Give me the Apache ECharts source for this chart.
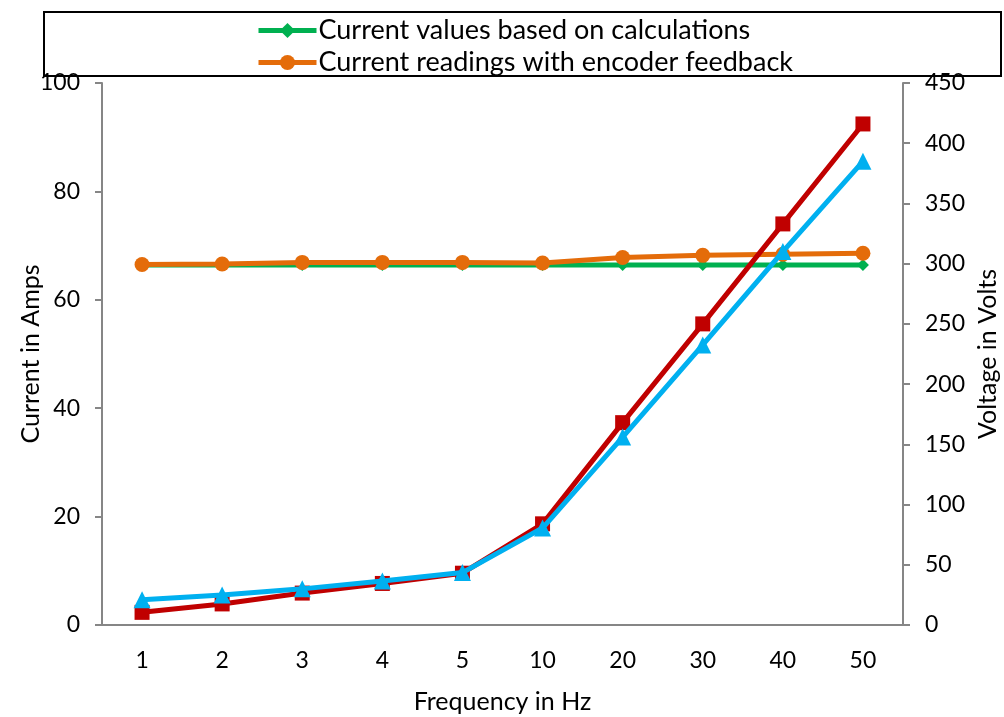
<!DOCTYPE html>
<html>
<head>
<meta charset="utf-8">
<script src="https://cdn.jsdelivr.net/npm/echarts@6/dist/echarts.min.js"></script>
<style>
  html, body { margin: 0; padding: 0; background: #fff; }
  #chart { width: 1004px; height: 717px; }
</style>
</head>
<body>
<div id="chart"></div>
<script>
const frequencies = ['1', '2', '3', '4', '5', '10', '20', '30', '40', '50'];
const currentCalc = [66.4, 66.4, 66.4, 66.4, 66.4, 66.4, 66.4, 66.4, 66.4, 66.4];
const currentEncoder = [66.5, 66.6, 66.9, 66.9, 66.9, 66.8, 67.8, 68.2, 68.4, 68.6];
const voltageRed = [10.5, 17.5, 26.5, 34.5, 43, 84, 168, 250, 333, 416];
const voltageBlue = [21, 25, 30, 36.5, 43.5, 80.5, 156, 232.5, 310, 385];

const font = 'Lato, "Open Sans", sans-serif';
const axisGray = '#868686';

const chart = echarts.init(document.getElementById('chart'));

const option = {
  animation: false,
  textStyle: { fontFamily: font, color: '#000' },
  graphic: [
    {
      type: 'rect',
      shape: { x: 44, y: 12, width: 957, height: 64 },
      style: { fill: 'none', stroke: '#000', lineWidth: 2 },
      z: 0,
    },
  ],
  legend: {
    orient: 'vertical',
    left: 251,
    top: 12,
    itemWidth: 58,
    itemHeight: 19,
    itemGap: 5,
    lineStyle: { width: 5 },
    data: ['Current values based on calculations', 'Current readings with encoder feedback'],
    textStyle: { fontSize: 27, fontFamily: font, color: '#000', padding: [0, 0, 0, -3] },
  },
  grid: { left: 102, right: 101, top: 83, bottom: 92, outerBoundsMode: 'none' },
  xAxis: {
    type: 'category',
    data: frequencies,
    name: 'Frequency in Hz',
    nameLocation: 'middle',
    nameGap: 64,
    nameTextStyle: { fontSize: 25, color: '#000' },
    axisLine: { lineStyle: { color: axisGray, width: 2 } },
    axisTick: { alignWithLabel: true, length: 7, lineStyle: { color: axisGray, width: 2 } },
    axisLabel: { fontSize: 23, color: '#000', margin: 24 },
  },
  yAxis: [
    {
      type: 'value',
      min: 0,
      max: 100,
      interval: 20,
      name: 'Current in Amps',
      nameLocation: 'middle',
      nameGap: 59,
      nameMoveOverlap: false,
      nameTextStyle: { fontSize: 25, color: '#000' },
      axisLine: { show: true, lineStyle: { color: axisGray, width: 2 } },
      axisTick: { show: true, length: 7, lineStyle: { color: axisGray, width: 2 } },
      axisLabel: { fontSize: 23, color: '#000', margin: 22 },
      splitLine: { show: false },
    },
    {
      type: 'value',
      min: 0,
      max: 450,
      interval: 50,
      name: 'Voltage in Volts',
      nameLocation: 'middle',
      nameGap: 71,
      nameRotate: 90,
      nameTextStyle: { fontSize: 25, color: '#000' },
      axisLine: { show: true, lineStyle: { color: axisGray, width: 2 } },
      axisTick: { show: true, length: 7, lineStyle: { color: axisGray, width: 2 } },
      axisLabel: { fontSize: 23, color: '#000', margin: 22 },
      splitLine: { show: false },
    },
  ],
  series: [
    {
      name: 'Current values based on calculations',
      type: 'line',
      yAxisIndex: 0,
      data: currentCalc,
      symbol: 'diamond',
      symbolSize: 12,
      lineStyle: { color: '#00B050', width: 5 },
      itemStyle: { color: '#00B050' },
      z: 2,
    },
    {
      name: 'Current readings with encoder feedback',
      type: 'line',
      yAxisIndex: 0,
      data: currentEncoder,
      symbol: 'circle',
      symbolSize: 15,
      lineStyle: { color: '#E46C0A', width: 5 },
      itemStyle: { color: '#E46C0A' },
      z: 3,
    },
    {
      name: 'Voltage (calculated)',
      type: 'line',
      yAxisIndex: 1,
      data: voltageRed,
      symbol: 'rect',
      symbolSize: 15,
      lineStyle: { color: '#C00000', width: 5 },
      itemStyle: { color: '#C00000' },
      z: 4,
    },
    {
      name: 'Voltage (measured)',
      type: 'line',
      yAxisIndex: 1,
      data: voltageBlue,
      symbol: 'triangle',
      symbolSize: 17,
      lineStyle: { color: '#00B0F0', width: 5 },
      itemStyle: { color: '#00B0F0' },
      z: 5,
    },
  ],
};

chart.setOption(option);
</script>
</body>
</html>
